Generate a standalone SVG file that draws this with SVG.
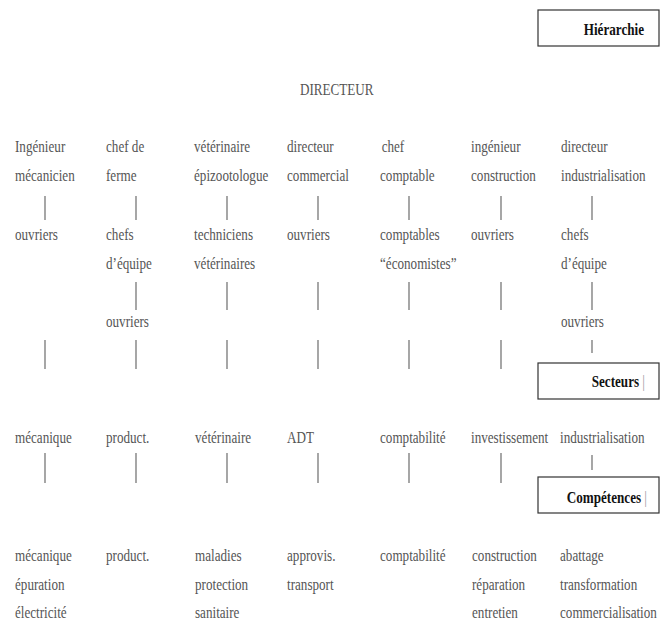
<svg xmlns="http://www.w3.org/2000/svg" width="669" height="621" viewBox="0 0 669 621">
<style>
text{font-family:"Liberation Serif","Times New Roman",serif;font-size:16px;fill:#555}
.b{font-weight:bold;fill:#111}
.bar{font-weight:normal;fill:#999}
.box{fill:none;stroke:#333;stroke-width:1.2}
#connectors line{stroke:#777;stroke-width:1.3}
</style>
<rect width="669" height="621" fill="#fff"/>
<g id="hierarchie"><rect class="box" x="538" y="10" width="121" height="36"/><text class="b" transform="translate(644,35) scale(0.82,1)" text-anchor="end">Hiérarchie</text></g>
<g id="secteurs"><rect class="box" x="538" y="363" width="121" height="36"/><text class="b" transform="translate(645,387) scale(0.82,1)" text-anchor="end">Secteurs<tspan class="bar"> |</tspan></text></g>
<g id="competences"><rect class="box" x="538" y="477" width="121" height="36"/><text class="b" transform="translate(647,503) scale(0.82,1)" text-anchor="end">Compétences<tspan class="bar"> |</tspan></text></g>
<g id="directeur"><text transform="translate(300,95) scale(0.82,1)">DIRECTEUR</text></g>

<g id="n1a"><text transform="translate(15,152) scale(0.82,1)">Ingénieur<tspan x="0" dy="29">mécanicien</tspan></text></g>
<g id="n1b"><text transform="translate(15,240) scale(0.82,1)">ouvriers</text></g>
<g id="s1"><text transform="translate(15,443) scale(0.82,1)">mécanique</text></g>
<g id="c1"><text transform="translate(15,561) scale(0.82,1)">mécanique<tspan x="0" dy="29">épuration</tspan><tspan x="0" dy="28">électricité</tspan></text></g>

<g id="n2a"><text transform="translate(106,152) scale(0.82,1)">chef de<tspan x="0" dy="29">ferme</tspan></text></g>
<g id="n2b"><text transform="translate(106,240) scale(0.82,1)">chefs<tspan x="0" dy="29">d’équipe</tspan></text></g>
<g id="n2c"><text transform="translate(106,327) scale(0.82,1)">ouvriers</text></g>
<g id="s2"><text transform="translate(106,443) scale(0.82,1)">product.</text></g>
<g id="c2"><text transform="translate(106,561) scale(0.82,1)">product.</text></g>

<g id="n3a"><text transform="translate(194,152) scale(0.82,1)">vétérinaire<tspan x="0" dy="29">épizootologue</tspan></text></g>
<g id="n3b"><text transform="translate(194,240) scale(0.82,1)">techniciens<tspan x="0" dy="29">vétérinaires</tspan></text></g>
<g id="s3"><text transform="translate(195,443) scale(0.82,1)">vétérinaire</text></g>
<g id="c3"><text transform="translate(195,561) scale(0.82,1)">maladies<tspan x="0" dy="29">protection</tspan><tspan x="0" dy="28">sanitaire</tspan></text></g>

<g id="n4a"><text transform="translate(287,152) scale(0.82,1)">directeur<tspan x="0" dy="29">commercial</tspan></text></g>
<g id="n4b"><text transform="translate(287,240) scale(0.82,1)">ouvriers</text></g>
<g id="s4"><text transform="translate(287,443) scale(0.82,1)">ADT</text></g>
<g id="c4"><text transform="translate(287,561) scale(0.82,1)">approvis.<tspan x="0" dy="29">transport</tspan></text></g>

<g id="n5a"><text transform="translate(380,152) scale(0.82,1)"><tspan x="2">chef</tspan><tspan x="0" dy="29">comptable</tspan></text></g>
<g id="n5b"><text transform="translate(380,240) scale(0.82,1)">comptables<tspan x="0" dy="29">“économistes”</tspan></text></g>
<g id="s5"><text transform="translate(380,443) scale(0.82,1)">comptabilité</text></g>
<g id="c5"><text transform="translate(380,561) scale(0.82,1)">comptabilité</text></g>

<g id="n6a"><text transform="translate(471,152) scale(0.82,1)">ingénieur<tspan x="0" dy="29">construction</tspan></text></g>
<g id="n6b"><text transform="translate(471,240) scale(0.82,1)">ouvriers</text></g>
<g id="s6"><text transform="translate(471,443) scale(0.82,1)">investissement</text></g>
<g id="c6"><text transform="translate(472,561) scale(0.82,1)">construction<tspan x="0" dy="29">réparation</tspan><tspan x="0" dy="28">entretien</tspan></text></g>

<g id="n7a"><text transform="translate(561,152) scale(0.82,1)">directeur<tspan x="0" dy="29">industrialisation</tspan></text></g>
<g id="n7b"><text transform="translate(561,240) scale(0.82,1)">chefs<tspan x="0" dy="29">d’équipe</tspan></text></g>
<g id="n7c"><text transform="translate(561,327) scale(0.82,1)">ouvriers</text></g>
<g id="s7"><text transform="translate(560,443) scale(0.82,1)">industrialisation</text></g>
<g id="c7"><text transform="translate(560,561) scale(0.82,1)">abattage<tspan x="0" dy="29">transformation</tspan><tspan x="0" dy="28">commercialisation</tspan></text></g>

<g id="connectors">
<line x1="45" y1="196" x2="45" y2="220"/><line x1="45" y1="340" x2="45" y2="369"/><line x1="45" y1="453" x2="45" y2="483"/>
<line x1="136" y1="196" x2="136" y2="220"/><line x1="136" y1="282" x2="136" y2="310"/><line x1="136" y1="340" x2="136" y2="369"/><line x1="136" y1="453" x2="136" y2="483"/>
<line x1="227" y1="196" x2="227" y2="220"/><line x1="227" y1="282" x2="227" y2="310"/><line x1="227" y1="340" x2="227" y2="369"/><line x1="227" y1="453" x2="227" y2="483"/>
<line x1="318" y1="196" x2="318" y2="220"/><line x1="318" y1="282" x2="318" y2="310"/><line x1="318" y1="340" x2="318" y2="369"/><line x1="318" y1="453" x2="318" y2="483"/>
<line x1="409" y1="196" x2="409" y2="220"/><line x1="409" y1="282" x2="409" y2="310"/><line x1="409" y1="340" x2="409" y2="369"/><line x1="409" y1="453" x2="409" y2="483"/>
<line x1="501" y1="196" x2="501" y2="220"/><line x1="501" y1="282" x2="501" y2="310"/><line x1="501" y1="340" x2="501" y2="369"/><line x1="501" y1="453" x2="501" y2="483"/>
<line x1="592" y1="196" x2="592" y2="220"/><line x1="592" y1="282" x2="592" y2="310"/><line x1="592" y1="340" x2="592" y2="353"/><line x1="592" y1="455" x2="592" y2="470"/>
</g>
</svg>
